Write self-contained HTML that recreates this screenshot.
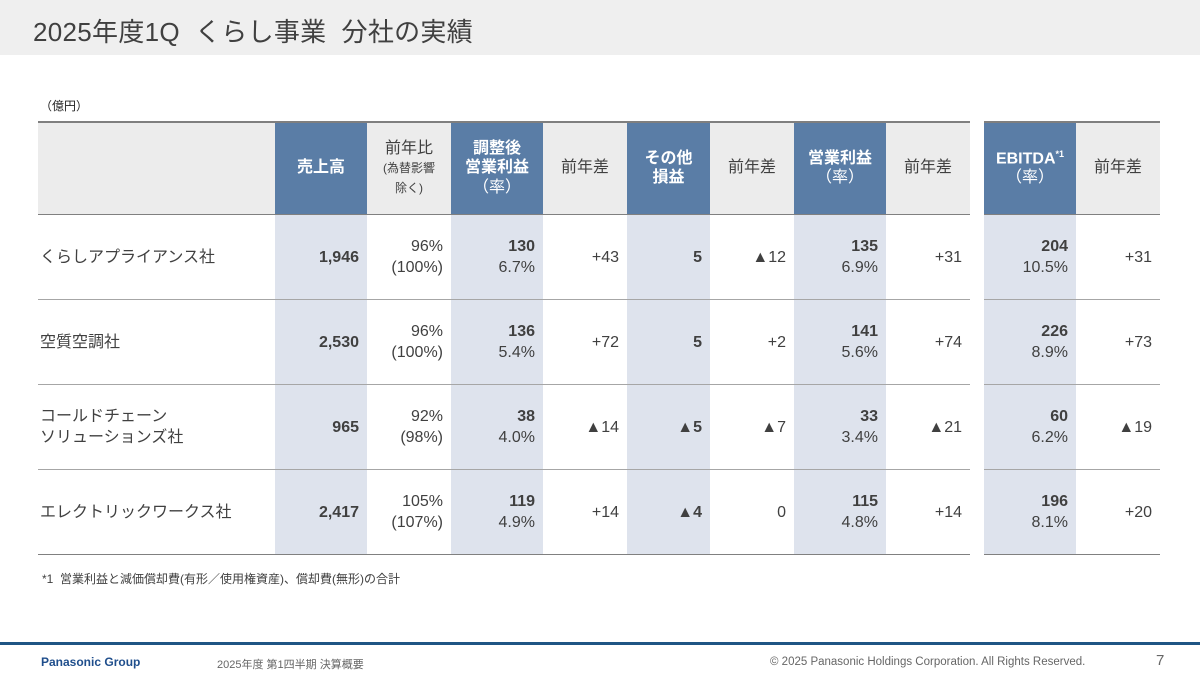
<!DOCTYPE html>
<html><head><meta charset="utf-8"><style>
*{margin:0;padding:0;box-sizing:border-box}
body{width:1200px;height:674px;background:#fff;position:relative;overflow:hidden;font-family:"Liberation Sans","Noto Sans CJK JP",sans-serif;color:#404040}
.a{position:absolute}
.hdr{left:0;top:0;width:1200px;height:55px;background:#efefef}
.title{left:33px;top:12px;font-size:26px;color:#404040;letter-spacing:0.3px}
.c{position:absolute;display:flex;align-items:center;justify-content:center;text-align:center;line-height:1.2}
.c>div{text-align:center}
.hb{background:#5a7da6;color:#fff;font-size:16px;font-weight:bold}
.hg{background:#ececec;color:#404040;font-size:16px}
.bl{background:#dee3ed}
.r{position:absolute;display:flex;flex-direction:column;justify-content:center;align-items:flex-end;text-align:right;font-size:16px;line-height:21px;padding-right:8px}
.lbl{position:absolute;display:flex;align-items:center;font-size:16px;line-height:21px;padding-left:2px}
.ln{position:absolute;height:1px;background:#a6a6a6}
b{color:#404040}
</style></head><body>
<div class="a hdr"></div>
<div class="a title">2025年度1Q&nbsp; くらし事業&nbsp; 分社の実績</div>
<div class="a" style="left:40px;top:97px;font-size:12px;color:#222">（億円）</div>

<div class="c hg" style="left:38px;top:122px;width:237px;height:92px"></div>
<div class="c hb" style="left:275px;top:122px;width:92px;height:92px"><div>売上高</div></div>
<div class="c hg" style="left:367px;top:122px;width:84px;height:92px"><div><span style="font-size:16px">前年比</span><br><span style="font-size:12px;line-height:1.3">(為替影響<br>除く)</span></div></div>
<div class="c hb" style="left:451px;top:122px;width:92px;height:92px"><div>調整後<br>営業利益<br><span style="font-weight:normal">（率）</span></div></div>
<div class="c hg" style="left:543px;top:122px;width:84px;height:92px"><div>前年差</div></div>
<div class="c hb" style="left:627px;top:122px;width:83px;height:92px"><div>その他<br>損益</div></div>
<div class="c hg" style="left:710px;top:122px;width:84px;height:92px"><div>前年差</div></div>
<div class="c hb" style="left:794px;top:122px;width:92px;height:92px"><div>営業利益<br><span style="font-weight:normal">（率）</span></div></div>
<div class="c hg" style="left:886px;top:122px;width:84px;height:92px"><div>前年差</div></div>
<div class="c hb" style="left:984px;top:122px;width:92px;height:92px"><div>EBITDA<sup style="font-size:9px">*1</sup><br><span style="font-weight:normal">（率）</span></div></div>
<div class="c hg" style="left:1076px;top:122px;width:84px;height:92px"><div>前年差</div></div>

<div class="a bl" style="left:275px;top:214px;width:92px;height:340px"></div>
<div class="a bl" style="left:451px;top:214px;width:92px;height:340px"></div>
<div class="a bl" style="left:627px;top:214px;width:83px;height:340px"></div>
<div class="a bl" style="left:794px;top:214px;width:92px;height:340px"></div>
<div class="a bl" style="left:984px;top:214px;width:92px;height:340px"></div>

<div class="ln" style="left:38px;top:121px;width:932px;height:2px;background:#7f7f7f"></div>
<div class="ln" style="left:984px;top:121px;width:176px;height:2px;background:#7f7f7f"></div>
<div class="ln" style="left:38px;top:214px;width:932px;background:#808080"></div>
<div class="ln" style="left:984px;top:214px;width:176px;background:#808080"></div>
<div class="ln" style="left:38px;top:299px;width:932px"></div>
<div class="ln" style="left:984px;top:299px;width:176px"></div>
<div class="ln" style="left:38px;top:384px;width:932px"></div>
<div class="ln" style="left:984px;top:384px;width:176px"></div>
<div class="ln" style="left:38px;top:469px;width:932px"></div>
<div class="ln" style="left:984px;top:469px;width:176px"></div>
<div class="ln" style="left:38px;top:554px;width:932px;background:#808080"></div>
<div class="ln" style="left:984px;top:554px;width:176px;background:#808080"></div>

<div class="lbl" style="left:38px;top:215px;height:84px">くらしアプライアンス社</div>
<div class="r" style="left:275px;top:215px;width:92px;height:84px"><b>1,946</b></div>
<div class="r" style="left:367px;top:215px;width:84px;height:84px">96%<br>(100%)</div>
<div class="r" style="left:451px;top:215px;width:92px;height:84px"><b>130</b>6.7%</div>
<div class="r" style="left:543px;top:215px;width:84px;height:84px">+43</div>
<div class="r" style="left:627px;top:215px;width:83px;height:84px"><b>5</b></div>
<div class="r" style="left:710px;top:215px;width:84px;height:84px">▲12</div>
<div class="r" style="left:794px;top:215px;width:92px;height:84px"><b>135</b>6.9%</div>
<div class="r" style="left:886px;top:215px;width:84px;height:84px">+31</div>
<div class="r" style="left:984px;top:215px;width:92px;height:84px"><b>204</b>10.5%</div>
<div class="r" style="left:1076px;top:215px;width:84px;height:84px">+31</div>

<div class="lbl" style="left:38px;top:300px;height:84px">空質空調社</div>
<div class="r" style="left:275px;top:300px;width:92px;height:84px"><b>2,530</b></div>
<div class="r" style="left:367px;top:300px;width:84px;height:84px">96%<br>(100%)</div>
<div class="r" style="left:451px;top:300px;width:92px;height:84px"><b>136</b>5.4%</div>
<div class="r" style="left:543px;top:300px;width:84px;height:84px">+72</div>
<div class="r" style="left:627px;top:300px;width:83px;height:84px"><b>5</b></div>
<div class="r" style="left:710px;top:300px;width:84px;height:84px">+2</div>
<div class="r" style="left:794px;top:300px;width:92px;height:84px"><b>141</b>5.6%</div>
<div class="r" style="left:886px;top:300px;width:84px;height:84px">+74</div>
<div class="r" style="left:984px;top:300px;width:92px;height:84px"><b>226</b>8.9%</div>
<div class="r" style="left:1076px;top:300px;width:84px;height:84px">+73</div>

<div class="lbl" style="left:38px;top:385px;height:84px">コールドチェーン<br>ソリューションズ社</div>
<div class="r" style="left:275px;top:385px;width:92px;height:84px"><b>965</b></div>
<div class="r" style="left:367px;top:385px;width:84px;height:84px">92%<br>(98%)</div>
<div class="r" style="left:451px;top:385px;width:92px;height:84px"><b>38</b>4.0%</div>
<div class="r" style="left:543px;top:385px;width:84px;height:84px">▲14</div>
<div class="r" style="left:627px;top:385px;width:83px;height:84px"><b>▲5</b></div>
<div class="r" style="left:710px;top:385px;width:84px;height:84px">▲7</div>
<div class="r" style="left:794px;top:385px;width:92px;height:84px"><b>33</b>3.4%</div>
<div class="r" style="left:886px;top:385px;width:84px;height:84px">▲21</div>
<div class="r" style="left:984px;top:385px;width:92px;height:84px"><b>60</b>6.2%</div>
<div class="r" style="left:1076px;top:385px;width:84px;height:84px">▲19</div>

<div class="lbl" style="left:38px;top:470px;height:84px">エレクトリックワークス社</div>
<div class="r" style="left:275px;top:470px;width:92px;height:84px"><b>2,417</b></div>
<div class="r" style="left:367px;top:470px;width:84px;height:84px">105%<br>(107%)</div>
<div class="r" style="left:451px;top:470px;width:92px;height:84px"><b>119</b>4.9%</div>
<div class="r" style="left:543px;top:470px;width:84px;height:84px">+14</div>
<div class="r" style="left:627px;top:470px;width:83px;height:84px"><b>▲4</b></div>
<div class="r" style="left:710px;top:470px;width:84px;height:84px">0</div>
<div class="r" style="left:794px;top:470px;width:92px;height:84px"><b>115</b>4.8%</div>
<div class="r" style="left:886px;top:470px;width:84px;height:84px">+14</div>
<div class="r" style="left:984px;top:470px;width:92px;height:84px"><b>196</b>8.1%</div>
<div class="r" style="left:1076px;top:470px;width:84px;height:84px">+20</div>

<div class="a" style="left:42px;top:570px;font-size:12px;color:#404040">*1&nbsp; 営業利益と減価償却費(有形／使用権資産)、償却費(無形)の合計</div>

<div class="a" style="left:0;top:642px;width:1200px;height:3px;background:#1f5584"></div>
<div class="a" style="left:41px;top:655px;font-size:12px;font-weight:bold;color:#1f4e8c">Panasonic Group</div>
<div class="a" style="left:217px;top:656px;font-size:11px;color:#666">2025年度 第1四半期 決算概要</div>
<div class="a" style="left:770px;top:656px;font-size:11.5px;color:#666">© 2025 Panasonic Holdings Corporation. All Rights Reserved.</div>
<div class="a" style="left:1156px;top:652px;font-size:15px;color:#666">7</div>
</body></html>
